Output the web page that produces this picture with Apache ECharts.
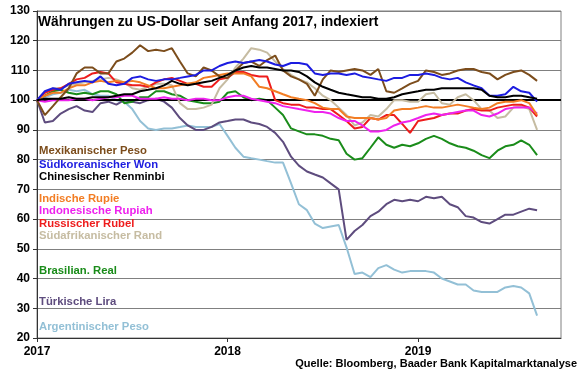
<!DOCTYPE html>
<html>
<head>
<meta charset="utf-8">
<script src="https://cdn.jsdelivr.net/npm/echarts@6/dist/echarts.min.js"></script>
<style>
  html, body { margin: 0; padding: 0; background: #fff; }
  #chart { width: 580px; height: 375px; }
</style>
</head>
<body>
<div id="chart"></div>
<script>
const chartDom = document.getElementById("chart");
let myChart = echarts.init(chartDom);

/** half-month observation dates */
const dates = [
  "2017-01-01", "2017-01-16", "2017-02-01", "2017-02-16", "2017-03-01", "2017-03-16",
  "2017-04-01", "2017-04-16", "2017-05-01", "2017-05-16", "2017-06-01", "2017-06-16",
  "2017-07-01", "2017-07-16", "2017-08-01", "2017-08-16", "2017-09-01", "2017-09-16",
  "2017-10-01", "2017-10-16", "2017-11-01", "2017-11-16", "2017-12-01", "2017-12-16",
  "2018-01-01", "2018-01-16", "2018-02-01", "2018-02-16", "2018-03-01", "2018-03-16",
  "2018-04-01", "2018-04-16", "2018-05-01", "2018-05-16", "2018-06-01", "2018-06-16",
  "2018-07-01", "2018-07-16", "2018-08-01", "2018-08-16", "2018-09-01", "2018-09-16",
  "2018-10-01", "2018-10-16", "2018-11-01", "2018-11-16", "2018-12-01", "2018-12-16",
  "2019-01-01", "2019-01-16", "2019-02-01", "2019-02-16", "2019-03-01", "2019-03-16",
  "2019-04-01", "2019-04-16", "2019-05-01", "2019-05-16", "2019-06-01", "2019-06-16",
  "2019-07-01", "2019-07-16", "2019-08-01", "2019-08-16"
];

const mxn = [100, 95, 98, 101, 104, 109, 111, 111, 109, 109, 113, 114, 116, 118.5, 116.5, 117,
  116.5, 117.5, 113, 109, 108, 111, 110, 108, 107.5, 110, 112.5, 113, 111.5, 113.5, 115, 110,
  108, 107, 105.5, 101.5, 107, 110, 109.5, 110, 110.5, 110, 108.5, 110.5, 103, 102.5, 104, 105.5,
  106.5, 110, 109.5, 108.5, 109, 110, 110.5, 110.5, 109.5, 109, 107, 108.5, 109.5, 110, 108.5, 106.5];
const krw = [100, 103, 104, 103.5, 105.5, 106, 106.5, 106, 108, 105.5, 105, 105.5, 107.5, 108, 107, 106.5,
  107, 107, 107.5, 108, 108.5, 110, 110, 111.5, 112.5, 113, 112.5, 113, 113.5, 113, 112, 111.5,
  112.5, 112.5, 112, 109, 108.5, 109, 109, 108.5, 109, 108, 107.5, 107, 106.5, 107.5, 107.5, 108.5,
  108.5, 109, 108.5, 107.5, 107, 107.5, 106, 105, 104, 101.5, 101.5, 102, 104.5, 103, 102.5, 99.5];
const cny = [100, 100.5, 100.5, 100.5, 101, 100.5, 100.5, 101, 101, 101, 101.5, 102, 102, 103, 103.5, 104,
  105, 106.5, 105.5, 105, 105.5, 106, 106.5, 107.5, 108.5, 110, 111, 111.5, 111, 111, 110.5, 110,
  110, 109.5, 108, 106, 104.5, 103.5, 102.5, 102, 101.5, 101, 101, 100.5, 100.5, 101, 102, 102.5,
  103, 103.5, 103.5, 104, 104, 104, 104, 104, 103.5, 101.5, 101, 101, 101.5, 101.5, 101, 100.5];
const inr = [100, 101.5, 102.5, 102.5, 104, 105, 105, 106, 106.5, 106, 106.5, 106, 106.5, 106, 105, 104,
  104, 104.5, 105, 105.5, 106, 107.5, 108, 108.5, 109, 109, 109, 108, 104.5, 104, 103, 102,
  101, 100.5, 100, 99, 97.5, 97, 97, 94.5, 94, 94, 94, 93.5, 94, 96.5, 97, 97,
  97.5, 98, 97.5, 97.5, 98, 98.5, 98, 97.5, 97, 97.5, 99, 99.5, 99.5, 100, 99, 95];
const idr = [100, 99.5, 100, 100, 100, 100.5, 100.5, 100, 100.5, 101, 101, 101.5, 101.5, 100.5, 100.5, 100.5,
  101, 100.5, 100.5, 100, 100.5, 100.5, 100, 100, 101, 101.5, 101.5, 100.5, 100, 99.5, 99, 98,
  97.5, 97, 96.5, 96, 96, 95.5, 94, 93, 93, 91.5, 89.5, 89.5, 90, 91.5, 92.5, 93,
  94, 95, 95.5, 95, 95.5, 96, 96.5, 96.5, 95, 94.5, 95.5, 97, 97.5, 97.5, 97.5, 95.5];
const rub = [100, 102.5, 103.5, 104, 105.5, 107, 107.5, 109, 109.5, 109, 106, 105.5, 105, 105, 104.5, 106,
  107, 107.5, 106.5, 105.5, 105.5, 104.5, 104.5, 107, 107.5, 109.5, 109.5, 108.5, 108, 108, 100, 99,
  98.5, 98.5, 97.5, 97.5, 97, 97, 95, 93, 90.5, 91, 94, 93.5, 95, 95, 92, 89,
  93, 93.5, 94, 95, 95.5, 95.5, 96.5, 97, 96.5, 96.5, 97.5, 98, 98.5, 98.5, 97.5, 94.5];
const zar = [100, 102.5, 104, 104, 105, 105.5, 106, 106.5, 107, 107.5, 107, 106, 104, 103.5, 104.5, 105.5,
  105.5, 105, 99, 97, 97, 97.5, 98.5, 104, 107, 111, 114, 117.5, 117, 116, 113, 110.5,
  108.5, 107, 106, 104, 101.5, 100, 97.5, 95, 91.5, 92.5, 95, 94.5, 97, 100, 100, 99.5,
  99.5, 102, 102.5, 99, 98.5, 101, 102, 100, 97, 96.5, 94, 94.5, 97.5, 98, 97, 90];
const brl = [100, 101.5, 103, 103.5, 102.5, 102, 102.5, 102, 103, 103, 102, 99, 99.5, 101, 101, 103,
  103, 102, 101.5, 100, 99.5, 99, 99, 99.5, 102.5, 103, 101, 100, 100.5, 100, 97.5, 95,
  90.5, 89.5, 88.5, 88.5, 88, 87, 86.5, 82, 80, 80.5, 84, 87.5, 85, 84, 85, 84.5,
  85.5, 87, 88, 87, 85.5, 84.5, 84, 83, 81.5, 80.5, 83, 84.5, 85, 86.5, 85, 81.5];
const tryl = [100, 92.5, 93, 95.5, 97, 98, 96.5, 96, 99, 99.5, 98.5, 100, 99.5, 99, 100, 100.5,
  99.5, 97.5, 94, 91.5, 90, 90, 91, 92.5, 93, 93.5, 93.5, 92.5, 92, 91, 89, 86,
  81, 78, 76, 75, 74, 72, 70, 53, 56, 58, 61, 62.5, 65, 66.5, 66, 66.5,
  66, 67.5, 67, 67.5, 65, 64, 61, 60.5, 59, 58.5, 60, 61.5, 61.5, 62.5, 63.5, 63];
const ars = [100, 101, 102, 102.5, 103.5, 103, 103.5, 102, 101.5, 101.5, 100, 99.5, 97, 93, 90.5, 90,
  90.5, 90.5, 91, 91.5, 91, 91, 91, 92, 88, 84, 81, 80.5, 80, 79.5, 79, 79,
  72, 65, 63, 58.5, 57, 57.5, 58, 50.5, 41.5, 42, 40.5, 43.5, 44.5, 43, 42, 42.5,
  42.5, 42.5, 42, 40, 39, 38, 38, 36, 35.5, 35.5, 35.5, 37, 37.5, 37, 35, 27.5];

const names = ["Argentinischer Peso", "Türkische Lira", "Brasilian. Real", "Südafrikanischer Rand",
  "Russischer Rubel", "Indonesische Rupiah", "Indische Rupie", "Mexikanischer Peso",
  "Südkoreanischer Won", "Chinesischer Renminbi"];
const values = [ars, tryl, brl, zar, rub, idr, inr, mxn, krw, cny];
const colors = ["#93c0d6", "#5e4c7e", "#1a8c1a", "#c6bca2", "#ee1c1c", "#ee22ee", "#f27d24",
  "#7c4d1c", "#1c1ce0", "#000000"];
/** legend rows, same order as names */
const labelY = [328, 303, 272, 237, 225, 212, 200, 152, 166, 178];

const yTicks = { min: 20, max: 130, step: 10 };

/** date string to decimal year */
function toYear(d) {
  const p = d.split("-").map(Number);
  return p[0] + (p[1] - 1) / 12 + (p[2] - 1) / 365;
}

const FONT = "'Liberation Sans', Arial, sans-serif";

let series = values.map((arr, k) => ({
  name: names[k],
  type: "line",
  symbol: "none",
  z: 2 + k,
  lineStyle: { color: colors[k], width: 2 },
  data: arr.map((v, i) => [toYear(dates[i]), v])
}));

// thick black line at 100
series.push({
  type: "line",
  data: [],
  z: 20,
  markLine: {
    silent: true,
    symbol: "none",
    label: { show: false },
    lineStyle: { color: "#000", width: 2, type: "solid" },
    data: [{ yAxis: 100 }]
  }
});

let graphics = names.map((n, k) => ({
  type: "text",
  left: 39,
  top: labelY[k] - 7,
  z: 100,
  style: {
    text: n,
    fill: colors[k],
    font: "bold 11.3px " + FONT
  }
}));

graphics.push({
  type: "text",
  left: 38,
  top: 15,
  z: 100,
  style: {
    text: "Währungen zu US-Dollar seit Anfang 2017, indexiert",
    fill: "#000",
    font: "bold 13.8px " + FONT
  }
});

graphics.push({
  type: "text",
  right: 3,
  top: 358,
  z: 100,
  style: {
    text: "Quelle: Bloomberg, Baader Bank Kapitalmarktanalyse",
    fill: "#000",
    font: "bold 11px " + FONT
  }
});

let option = {
  animation: false,
  backgroundColor: "#fff",
  grid: {
    left: 37, right: 19, top: 11, bottom: 37,
    show: true, borderColor: "#808080", borderWidth: 1
  },
  xAxis: {
    type: "value",
    min: 2017,
    max: 2019.75,
    interval: 1,
    axisLine: { show: true, lineStyle: { color: "#333", width: 1 } },
    axisTick: { show: true, length: 4, lineStyle: { color: "#333" } },
    axisLabel: {
      showMaxLabel: false,
      color: "#000",
      fontFamily: FONT,
      fontWeight: "bold",
      fontSize: 12,
      margin: 8,
      formatter: (v) => String(Math.round(v))
    },
    splitLine: { show: false }
  },
  yAxis: {
    type: "value",
    min: yTicks.min,
    max: yTicks.max,
    interval: yTicks.step,
    axisLine: { show: true, lineStyle: { color: "#333", width: 1 } },
    axisTick: { show: true, length: 4, lineStyle: { color: "#333" } },
    axisLabel: {
      color: "#000",
      fontFamily: FONT,
      fontWeight: "bold",
      fontSize: 12,
      margin: 7
    },
    splitLine: { show: true, lineStyle: { color: "#808080", width: 1 } }
  },
  series: series,
  graphic: graphics
};

option && myChart.setOption(option);
</script>
</body>
</html>
